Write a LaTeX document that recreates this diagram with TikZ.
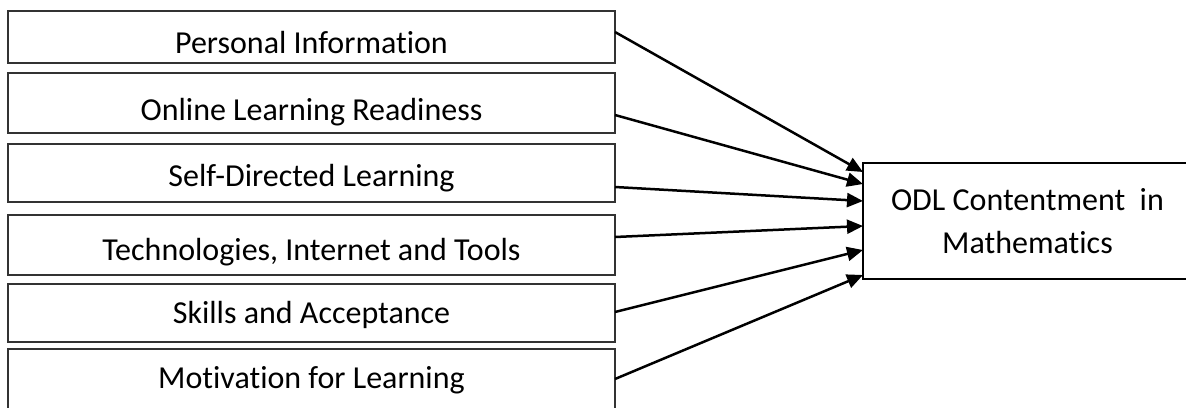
\documentclass[tikz,border=0pt]{standalone}
\usepackage{fontspec}
\setmainfont[Ligatures=NoCommon]{Carlito}
\usetikzlibrary{arrows.meta}
\tikzset{
  inbox/.style={draw=black!80, line width=1.4pt, minimum width=607pt, inner sep=0pt, outer sep=0pt,
    font=\fontsize{32}{38}\selectfont, text depth=0pt},
  outbox/.style={draw=black, line width=2.2pt, minimum width=329pt, minimum height=116pt, inner sep=0pt, outer sep=0pt,
    align=center, font=\fontsize{32}{43}\selectfont},
  arr/.style={line width=2.5pt, -{Triangle[length=16pt,width=14pt]}}
}
\begin{document}
\begin{tikzpicture}[x=1pt,y=-1pt]
\useasboundingbox (0,0) rectangle (1186,407);
\clip (0,0) rectangle (1186,407);
\fill[white] (0,0) rectangle (1186,407);
\node[inbox, minimum height=52pt, text height=32pt] (b1) at (311.5,37) {Personal Information};
\node[inbox, minimum height=60pt, text height=34pt] (b2) at (311.5,103) {Online Learning Readiness};
\node[inbox, minimum height=58pt, text height=26pt] (b3) at (311.5,173) {Self-Directed Learning};
\node[inbox, minimum height=60pt, text height=30pt] (b4) at (311.5,245) {Technologies, Internet and Tools};
\node[inbox, minimum height=58pt, text height=20pt] (b5) at (311.5,313) {Skills and Acceptance};
\node[inbox, minimum height=61pt, text height=17pt] (b6) at (311.5,379.5) {Motivation for Learning};
\node[outbox] (odl) at (1027.5,221) {ODL Contentment\ \ in\\Mathematics};
\draw[arr] (b1.east |- 0,32) -- (odl.west |- 0,172);
\draw[arr] (b2.east |- 0,115) -- (odl.west |- 0,184);
\draw[arr] (b3.east |- 0,187) -- (odl.west |- 0,201);
\draw[arr] (b4.east |- 0,237) -- (odl.west |- 0,226);
\draw[arr] (b5.east |- 0,312) -- (odl.west |- 0,250);
\draw[arr] (b6.east |- 0,379) -- (odl.west |- 0,275);
\end{tikzpicture}
\end{document}
